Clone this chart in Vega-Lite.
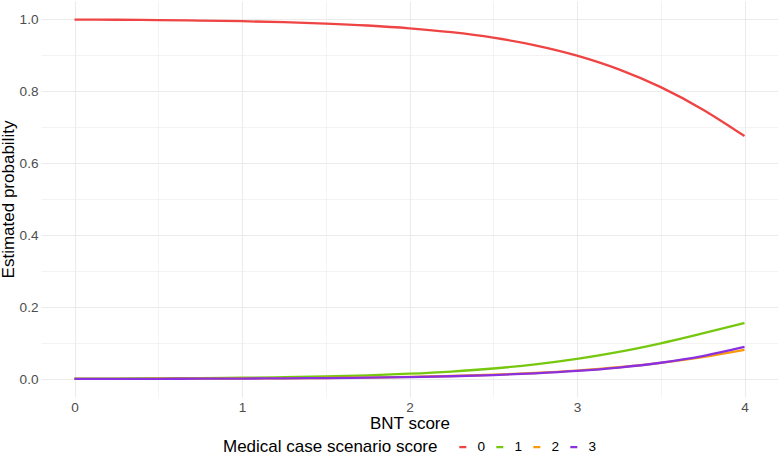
{
  "$schema": "https://vega.github.io/schema/vega-lite/v6.json",
  "width": 737,
  "height": 396,
  "autosize": {"type": "none"},
  "padding": {"left": 41, "top": 1, "right": 0, "bottom": 60},
  "background": "white",
  "config": {
    "font": "Liberation Sans",
    "view": {"stroke": null},
    "legend": {"layout": {"bottom": {"anchor": "middle"}}}
  },
  "data": {
    "values": [
      {"x": 0, "score": "0", "p": 0.99854}, {"x": 0, "score": "1", "p": 0.000837}, {"x": 0, "score": "2", "p": 0.000324}, {"x": 0, "score": "3", "p": 0.000296},
      {"x": 0.25, "score": "0", "p": 0.99791}, {"x": 0.25, "score": "1", "p": 0.001202}, {"x": 0.25, "score": "2", "p": 0.000465}, {"x": 0.25, "score": "3", "p": 0.000425},
      {"x": 0.5, "score": "0", "p": 0.997}, {"x": 0.5, "score": "1", "p": 0.001722}, {"x": 0.5, "score": "2", "p": 0.000668}, {"x": 0.5, "score": "3", "p": 0.000611},
      {"x": 0.75, "score": "0", "p": 0.99569}, {"x": 0.75, "score": "1", "p": 0.002474}, {"x": 0.75, "score": "2", "p": 0.000959}, {"x": 0.75, "score": "3", "p": 0.000877},
      {"x": 1, "score": "0", "p": 0.99382}, {"x": 1, "score": "1", "p": 0.003545}, {"x": 1, "score": "2", "p": 0.001376}, {"x": 1, "score": "3", "p": 0.001259},
      {"x": 1.25, "score": "0", "p": 0.99114}, {"x": 1.25, "score": "1", "p": 0.005075}, {"x": 1.25, "score": "2", "p": 0.001973}, {"x": 1.25, "score": "3", "p": 0.001809},
      {"x": 1.5, "score": "0", "p": 0.98732}, {"x": 1.5, "score": "1", "p": 0.007254}, {"x": 1.5, "score": "2", "p": 0.00283}, {"x": 1.5, "score": "3", "p": 0.002596},
      {"x": 1.75, "score": "0", "p": 0.98188}, {"x": 1.75, "score": "1", "p": 0.010347}, {"x": 1.75, "score": "2", "p": 0.00405}, {"x": 1.75, "score": "3", "p": 0.003726},
      {"x": 2, "score": "0", "p": 0.97417}, {"x": 2, "score": "1", "p": 0.014692}, {"x": 2, "score": "2", "p": 0.005793}, {"x": 2, "score": "3", "p": 0.005348},
      {"x": 2.25, "score": "0", "p": 0.9633}, {"x": 2.25, "score": "1", "p": 0.020766}, {"x": 2.25, "score": "2", "p": 0.008268}, {"x": 2.25, "score": "3", "p": 0.007663},
      {"x": 2.5, "score": "0", "p": 0.94808}, {"x": 2.5, "score": "1", "p": 0.029188}, {"x": 2.5, "score": "2", "p": 0.011757}, {"x": 2.5, "score": "3", "p": 0.010976},
      {"x": 2.75, "score": "0", "p": 0.92706}, {"x": 2.75, "score": "1", "p": 0.040598}, {"x": 2.75, "score": "2", "p": 0.016648}, {"x": 2.75, "score": "3", "p": 0.015693},
      {"x": 3, "score": "0", "p": 0.89844}, {"x": 3, "score": "1", "p": 0.055734}, {"x": 3, "score": "2", "p": 0.023429}, {"x": 3, "score": "3", "p": 0.022401},
      {"x": 3.25, "score": "0", "p": 0.86026}, {"x": 3.25, "score": "1", "p": 0.075185}, {"x": 3.25, "score": "2", "p": 0.03268}, {"x": 3.25, "score": "3", "p": 0.031878},
      {"x": 3.5, "score": "0", "p": 0.81075}, {"x": 3.5, "score": "1", "p": 0.098997}, {"x": 3.5, "score": "2", "p": 0.045086}, {"x": 3.5, "score": "3", "p": 0.045167},
      {"x": 3.75, "score": "0", "p": 0.74887}, {"x": 3.75, "score": "1", "p": 0.126411}, {"x": 3.75, "score": "2", "p": 0.061065}, {"x": 3.75, "score": "3", "p": 0.063654},
      {"x": 4, "score": "0", "p": 0.6748}, {"x": 4, "score": "1", "p": 0.155251}, {"x": 4, "score": "2", "p": 0.08096}, {"x": 4, "score": "3", "p": 0.088992}
    ]
  },
  "mark": {"type": "line", "strokeWidth": 2.3, "interpolate": "monotone"},
  "encoding": {
    "x": {
      "field": "x",
      "type": "quantitative",
      "scale": {"domain": [-0.2, 4.2], "nice": false, "zero": false},
      "axis": {
        "title": "BNT score",
        "values": [0, 0.5, 1, 1.5, 2, 2.5, 3, 3.5, 4],
        "labelExpr": "datum.value % 1 === 0 ? format(datum.value, 'd') : ''",
        "domain": false,
        "ticks": false,
        "labelPadding": 3,
        "labelFontSize": 13.6,
        "labelColor": "#4D4D4D",
        "titleFontSize": 17,
        "titleFontWeight": "normal",
        "titleColor": "#000000",
        "titlePadding": 2,
        "gridColor": "#EBEBEB",
        "gridWidth": {"condition": {"test": "datum.value % 1 !== 0", "value": 0.6}, "value": 1.1}
      }
    },
    "y": {
      "field": "p",
      "type": "quantitative",
      "scale": {"domain": [-0.05, 1.05], "nice": false, "zero": false},
      "axis": {
        "title": "Estimated probability",
        "values": [0, 0.1, 0.2, 0.3, 0.4, 0.5, 0.6, 0.7, 0.8, 0.9, 1.0],
        "labelExpr": "round(datum.value * 10) % 2 === 0 ? format(datum.value, '.1f') : ''",
        "domain": false,
        "ticks": false,
        "labelPadding": 3,
        "labelFontSize": 13.6,
        "labelColor": "#4D4D4D",
        "titleFontSize": 17,
        "titleFontWeight": "normal",
        "titleColor": "#000000",
        "titlePadding": 2,
        "gridColor": "#EBEBEB",
        "gridWidth": {"condition": {"test": "round(datum.value * 10) % 2 !== 0", "value": 0.6}, "value": 1.1}
      }
    },
    "color": {
      "field": "score",
      "type": "nominal",
      "scale": {"domain": ["0", "1", "2", "3"], "range": ["#EF4444", "#76C80F", "#FA9A0A", "#8B30E0"]},
      "legend": {
        "title": "Medical case scenario score",
        "orient": "bottom",
        "direction": "horizontal",
        "titleOrient": "left",
        "titleFontSize": 17,
        "titleFontWeight": "normal",
        "titleColor": "#000000",
        "titleLimit": 500,
        "titlePadding": 18,
        "titleBaseline": "middle",
        "labelFontSize": 13.6,
        "labelColor": "#000000",
        "labelOffset": 8,
        "columnPadding": 5,
        "symbolType": "stroke",
        "symbolSize": 49,
        "symbolStrokeWidth": 2.3,
        "offset": 8
      }
    }
  }
}
